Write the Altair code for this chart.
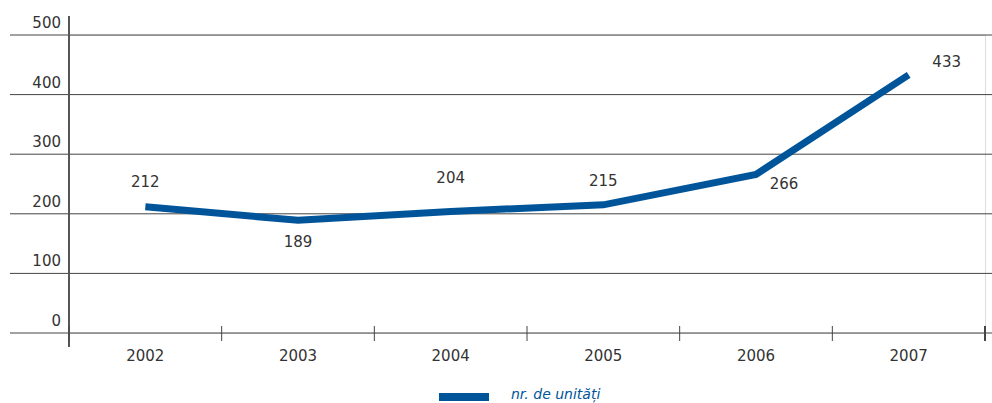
import altair as alt
import pandas as pd

years = ["2002", "2003", "2004", "2005", "2006", "2007"]
units = [212, 189, 204, 215, 266, 433]
y_ticks = [0, 100, 200, 300, 400, 500]
series_name = "nr. de unități"

W, H = 916, 298
FONT = "DejaVu Sans"
BLUE = "#00559a"
TEXT = "#333333"

df = pd.DataFrame({"year": years, "value": units})
grid_df = pd.DataFrame({"v": y_ticks})
year_df = pd.DataFrame({"year": years})

xs = alt.Scale(type="band", domain=years, paddingInner=0, paddingOuter=0)
ys = alt.Scale(domain=[0, 500], nice=False, zero=True)

grid = alt.Chart(grid_df).mark_rule(color="#444444", strokeWidth=1).encode(
    y=alt.Y("v:Q", scale=ys, axis=None),
    x=alt.value(-59), x2=alt.value(W + 7),
)
ylabels = alt.Chart(grid_df).mark_text(
    align="right", baseline="alphabetic", dy=-7, dx=0, font=FONT, fontSize=15, color=TEXT
).encode(
    y=alt.Y("v:Q", scale=ys, axis=None),
    x=alt.value(-8),
    text=alt.Text("v:Q"),
)
vaxis = alt.Chart(grid_df).mark_rule(color="#555555", strokeWidth=1).encode(
    x=alt.value(0), y=alt.value(-19), y2=alt.value(H + 14)
)
xticks = alt.Chart(year_df).mark_rule(color="#444444", strokeWidth=1).encode(
    x=alt.X("year:O", scale=xs, bandPosition=0, axis=None),
    y=alt.value(H - 7), y2=alt.value(H + 8),
)
endtick = alt.Chart(grid_df).mark_rule(color="#444444", strokeWidth=1).encode(
    x=alt.value(W), y=alt.value(H - 7), y2=alt.value(H + 8)
)
xlabels = alt.Chart(year_df).mark_text(
    baseline="alphabetic", font=FONT, fontSize=15, color=TEXT
).encode(
    x=alt.X("year:O", scale=xs, bandPosition=0.5, axis=None),
    y=alt.value(H + 28),
    text="year:N",
)
line = alt.Chart(df).mark_line(
    color=BLUE, strokeWidth=7, strokeCap="butt", strokeJoin="miter"
).encode(
    x=alt.X("year:O", scale=xs, bandPosition=0.5, axis=None),
    y=alt.Y("value:Q", scale=ys, axis=None),
)

offsets = {
    "2002": (0, -25),
    "2003": (0, 22),
    "2004": (0, -33),
    "2005": (0, -24),
    "2006": (28, 10),
    "2007": (38, -13),
}
labels = []
for yr in years:
    dx, dy = offsets[yr]
    labels.append(
        alt.Chart(df).transform_filter(alt.datum.year == yr).mark_text(
            font=FONT, fontSize=15, color=TEXT, dx=dx, dy=dy, baseline="middle"
        ).encode(
            x=alt.X("year:O", scale=xs, bandPosition=0.5, axis=None),
            y=alt.Y("value:Q", scale=ys, axis=None),
            text=alt.Text("value:Q"),
        )
    )

legend_sym = alt.Chart(grid_df).mark_rule(color=BLUE, strokeWidth=8).encode(
    x=alt.value(370), x2=alt.value(420), y=alt.value(362)
)
legend_txt = alt.Chart(pd.DataFrame({"t": [series_name]})).mark_text(
    align="left", baseline="alphabetic", font=FONT, fontSize=14, fontStyle="italic", color=BLUE
).encode(x=alt.value(442), y=alt.value(364), text="t:N")

chart = alt.layer(
    grid, ylabels, vaxis, xticks, endtick, xlabels, line, *labels, legend_sym, legend_txt
).properties(
    width=W, height=H,
    padding={"left": 69, "top": 35, "right": 7, "bottom": 70},
    autosize=alt.AutoSizeParams(type="none"),
).configure_view(stroke=None).configure(background="white")

chart.save("out.html", embed_options={"renderer": "svg", "actions": False})
